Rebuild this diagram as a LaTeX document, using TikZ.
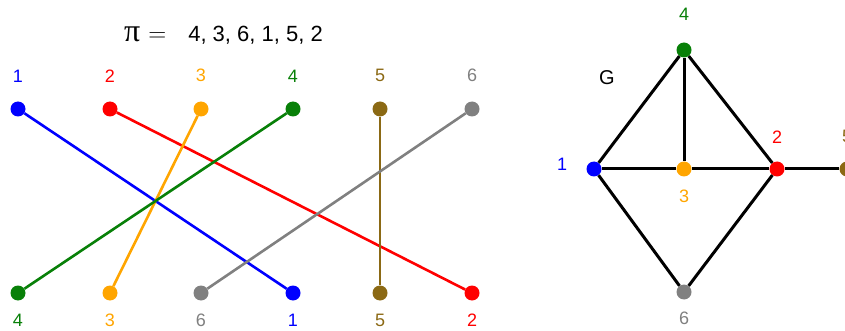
\documentclass[tikz,border=0pt]{standalone}
\usepackage{fontspec}
\setmainfont{Liberation Sans}
\newfontfamily\piserif{Liberation Serif}
\usetikzlibrary{positioning}
\definecolor{vcol1}{RGB}{0,0,255}
\definecolor{vcol2}{RGB}{255,0,0}
\definecolor{vcol3}{RGB}{255,165,0}
\definecolor{vcol4}{RGB}{8,128,8}
\definecolor{vcol5}{RGB}{139,105,20}
\definecolor{vcol6}{RGB}{128,128,128}

\begin{document}
\begin{tikzpicture}[x=1pt, y=-1pt,
  dot/.style={circle, fill=#1, minimum size=15pt, inner sep=0pt},
  lab/.style={text=#1, inner sep=0pt, font=\fontsize{18}{20}\selectfont},
  match/.style={line width=2.6pt, #1},
  gedge/.style={line width=3pt, black}]
  \useasboundingbox (0,0) rectangle (845,331);
  % permutation
  \node[inner sep=0pt, anchor=base west, font=\fontsize{22}{24}\selectfont] (perm) at (124,42)
    {{\fontsize{32}{34}\piserif π}\hspace{8pt}{\fontsize{28}{30}\selectfont$=$}\hspace{22pt}4, 3, 6, 1, 5, 2};
  \foreach \i/\x in {1/18, 2/110, 3/201, 4/293, 5/380, 6/472} {
    \node[dot=vcol\i] (t\i) at (\x,109) {};
    \node[lab=vcol\i, above=19pt of t\i] (tl\i) {\i};
  }
  \foreach \j/\x in {4/18, 3/110, 6/201, 1/293, 5/380, 2/472} {
    \node[dot=vcol\j] (b\j) at (\x,293) {};
    \node[lab=vcol\j, below=13pt of b\j] (bl\j) {\j};
  }
  \foreach \i in {1,...,6}
    \draw[match=vcol\i] (t\i) -- (b\i);
  % graph G
  \node[font=\fontsize{20}{22}\selectfont, inner sep=0pt] (gname) at (607,78) {G};
  \node[dot=vcol1] (v1) at (594,169) {};
  \node[dot=vcol3] (v3) at (684,169) {};
  \node[dot=vcol2] (v2) at (777,169) {};
  \node[dot=vcol5] (v5) at (847,169) {};
  \node[dot=vcol4] (v4) at (684,50) {};
  \node[dot=vcol6] (v6) at (684,292) {};
  \node[lab=vcol1, left=19pt of v1, yshift=5pt] (vl1) {1};
  \node[lab=vcol2, above=18pt of v2] (vl2) {2};
  \node[lab=vcol3, below=13pt of v3] (vl3) {3};
  \node[lab=vcol4, above=22pt of v4] (vl4) {4};
  \node[lab=vcol5, above=18pt of v5] (vl5) {5};
  \node[lab=vcol6, below=12pt of v6] (vl6) {6};
  \draw[gedge] (v1) -- (v4);
  \draw[gedge] (v4) -- (v3);
  \draw[gedge] (v4) -- (v2);
  \draw[gedge] (v1) -- (v3);
  \draw[gedge] (v3) -- (v2);
  \draw[gedge] (v2) -- (v5);
  \draw[gedge] (v1) -- (v6);
  \draw[gedge] (v6) -- (v2);
\end{tikzpicture}
\end{document}
